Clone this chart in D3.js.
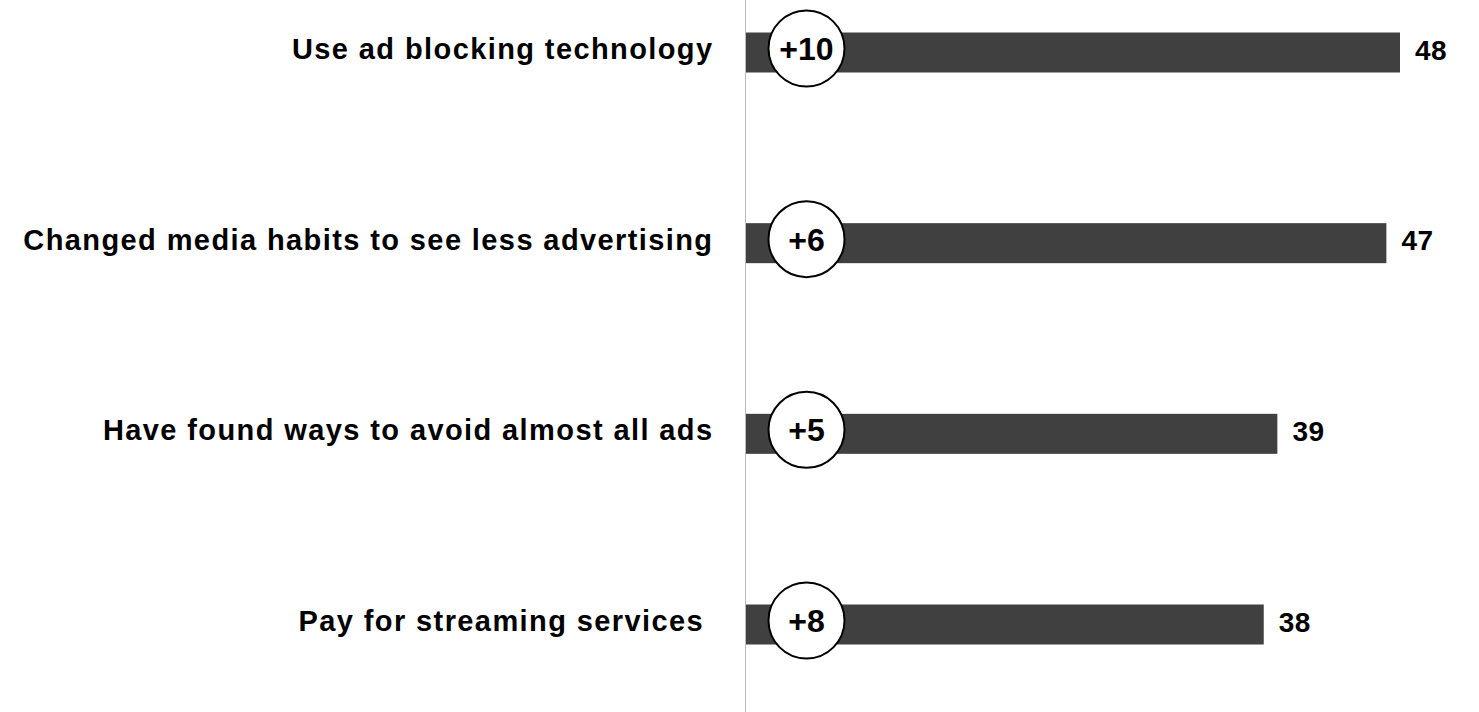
<!DOCTYPE html>
<html lang="en">
<head>
<meta charset="UTF-8">
<script src="https://d3js.org/d3.v7.min.js"></script>
<title>Ad avoidance</title>
<style>
    body { margin: 0; background: #fff; }
    text { font-family: "Liberation Sans", Arial, sans-serif; font-weight: bold; fill: #000; }
</style>
</head>
<body>
<svg id="chart" width="1479" height="712"></svg>
<script>
    // data
    const categories = ["Use ad blocking technology", "Changed media habits to see less advertising",
        "Have found ways to avoid almost all ads", "Pay for streaming services "];
    const values = [48, 47, 39, 38];
    const changes = ["+10", "+6", "+5", "+8"];

    const svg = d3.select("#chart");
    const height = 712;
    const barH = 40;

    const x = d3.scaleLinear().domain([0, 48]).range([746, 1400]);
    const y = d3.scalePoint().domain(categories).range([52.5, 624.5]);

    const rows = categories.map((c, i) => ({ cat: c, v: values[i], ch: changes[i] }));

    // bars
    svg.selectAll(".bar")
        .data(rows)
        .join("rect")
        .attr("class", "bar")
        .attr("x", x(0))
        .attr("y", d => y(d.cat) - barH / 2)
        .attr("width", d => x(d.v) - x(0))
        .attr("height", barH)
        .attr("fill", "#404040");

    // axis line
    svg.append("line")
        .attr("x1", x(0) - 0.5).attr("x2", x(0) - 0.5)
        .attr("y1", 0).attr("y2", height)
        .attr("stroke", "#b8bcbc").attr("stroke-width", 1);

    // category labels
    svg.selectAll(".cat")
        .data(rows)
        .join("text")
        .attr("class", "cat")
        .attr("x", 713.5)
        .attr("y", d => y(d.cat) - 4)
        .attr("dy", "0.36em")
        .attr("text-anchor", "end")
        .attr("font-size", 29)
        .attr("letter-spacing", 1.4)
        .style("white-space", "pre")
        .text(d => d.cat);

    // value labels
    svg.selectAll(".val")
        .data(rows)
        .join("text")
        .attr("class", "val")
        .attr("x", d => x(d.v) + 15)
        .attr("y", d => y(d.cat) - 3)
        .attr("dy", "0.36em")
        .attr("font-size", 28)
        .attr("letter-spacing", 0.5)
        .text(d => d.v);

    // change circles
    const bub = svg.selectAll(".bub")
        .data(rows)
        .join("g")
        .attr("class", "bub")
        .attr("transform", d => `translate(806.5,${y(d.cat) - 4})`);
    bub.append("circle")
        .attr("r", 38)
        .attr("fill", "#fff")
        .attr("stroke", "#000")
        .attr("stroke-width", 2);
    bub.append("text")
        .attr("text-anchor", "middle")
        .attr("dy", "0.36em")
        .attr("font-size", 32)
        .text(d => d.ch);
</script>
</body>
</html>
